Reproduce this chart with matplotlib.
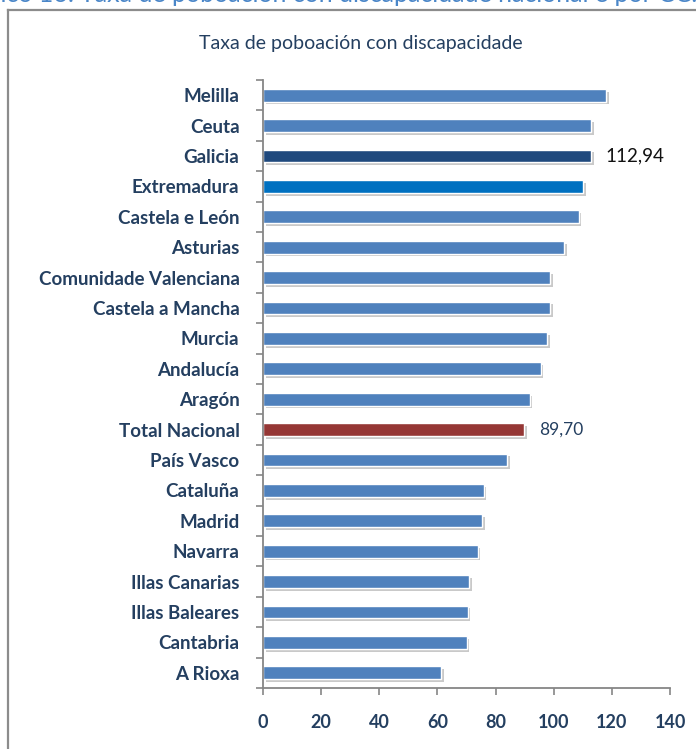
import matplotlib.pyplot as plt
import matplotlib.patheffects as pe
from matplotlib.lines import Line2D
from matplotlib.ticker import FixedLocator

REGIONS = [
    "Melilla", "Ceuta", "Galicia", "Extremadura", "Castela e León", "Asturias",
    "Comunidade Valenciana", "Castela a Mancha", "Murcia", "Andalucía", "Aragón",
    "Total Nacional", "País Vasco", "Cataluña", "Madrid", "Navarra",
    "Illas Canarias", "Illas Baleares", "Cantabria", "A Rioxa",
]
RATES = [
    118.0, 112.9, 112.94, 110.1, 108.6, 103.6,
    98.7, 98.7, 97.8, 95.5, 91.7,
    89.70, 84.0, 75.9, 75.4, 73.8,
    71.0, 70.4, 70.0, 61.3,
]
X_TICKS = [0, 20, 40, 60, 80, 100, 120, 140]

BASE_COLOR = "#4F81BD"
HIGHLIGHT = {"Galicia": "#1F497D", "Extremadura": "#0070C0", "Total Nacional": "#953735"}
# label text, colour, size, gap after the bar end (points)
LABELS = {
    "Galicia": ("112,94", "#111111", 13.5, 10),
    "Total Nacional": ("89,70", "#243F60", 12.5, 11),
}
NAVY = "#243F60"
FONT = ["Lato", "DejaVu Sans"]

W, H = 696, 749
plt.rcParams["font.family"] = FONT

fig = plt.figure(figsize=(W / 100, H / 100), dpi=100)
ax = fig.add_axes([263 / W, 1 - 688 / H, (670 - 263) / W, (688 - 80) / H])

ypos = list(range(len(REGIONS)))
colors = [HIGHLIGHT.get(r, BASE_COLOR) for r in REGIONS]
bars = ax.barh(ypos, RATES, height=0.42, color=colors, edgecolor="white", linewidth=1.0)
for b in bars:
    b.set_path_effects([pe.SimplePatchShadow(offset=(2, -2), shadow_rgbFace="#888888", alpha=0.45),
                        pe.Normal()])

for name, (txt, col, size, gap) in LABELS.items():
    i = REGIONS.index(name)
    ax.annotate(txt, (RATES[i], i), xytext=(gap, 0), textcoords="offset points",
                va="center", ha="left", color=col, fontsize=size)

ax.set_xlim(0, 140)
ax.set_ylim(len(REGIONS) - 0.5, -0.5)
ax.set_xticks(X_TICKS)
ax.set_yticks(ypos)
ax.set_yticklabels(REGIONS)
ax.yaxis.set_minor_locator(FixedLocator([i - 0.5 for i in range(len(REGIONS) + 1)]))

for side in ("top", "right"):
    ax.spines[side].set_visible(False)
for side in ("left", "bottom"):
    ax.spines[side].set_color("#868686")
    ax.spines[side].set_linewidth(1.3)

ax.tick_params(axis="y", which="major", length=0, pad=17, labelsize=13.5, labelcolor=NAVY)
ax.tick_params(axis="y", which="minor", length=5, color="#868686", width=1.2)
ax.tick_params(axis="x", length=5, color="#868686", width=1.2, pad=14,
               labelsize=13, labelcolor=NAVY)
for lbl in ax.get_yticklabels() + ax.get_xticklabels():
    lbl.set_fontweight("bold")

fig.text(361 / W, 1 - 44 / H, "Taxa de poboación con discapacidade", ha="center", va="center",
         fontsize=14, color=NAVY)

# outer frame of the chart object
fig.add_artist(Line2D([8 / W, 8 / W], [0, 1 - 10 / H], color="#8C8C8C", lw=1.6))
fig.add_artist(Line2D([8 / W, 1], [1 - 10 / H, 1 - 10 / H], color="#8C8C8C", lw=1.6))

# caption above the frame, cut by the top edge as in the source page
fig.text(80 / W, 1 - 2 / H, "Taxa de poboación con discapacidade nacional e por CC.AA.",
         ha="left", va="baseline", fontsize=18, color="#4A86C8")
fig.text(74 / W, 1 - 2 / H, "Gráfico 16:", ha="right", va="baseline", fontsize=18,
         color="#4A86C8")

fig.savefig("out.png", dpi=100)
